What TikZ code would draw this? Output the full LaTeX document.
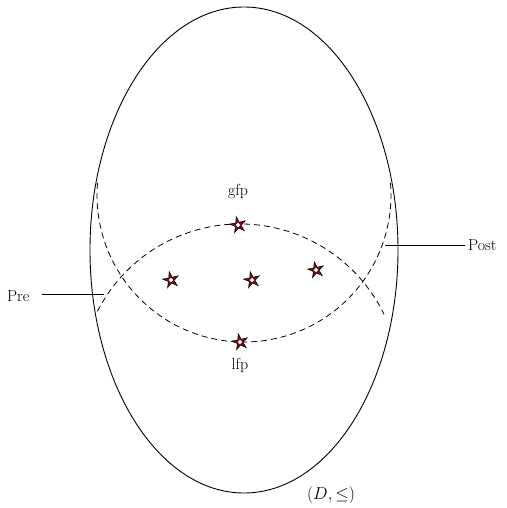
\documentclass[tikz,border=0pt]{standalone}
\usetikzlibrary{shapes.geometric}
\definecolor{stared}{RGB}{130,10,20}
\begin{document}
\begin{tikzpicture}[x=1pt,y=-1pt,
  lbl/.style={font=\fontsize{16}{19}\selectfont, inner sep=0pt},
  fp/.style={star, star points=5, star point ratio=2.8, minimum size=17pt, inner sep=0pt,
     draw=black, fill=stared, line width=0.5pt, rotate=12},
  hole/.style={circle, fill=white, draw=black, line width=0.3pt, minimum size=4.5pt, inner sep=0pt},
  dsh/.style={dashed, dash pattern=on 6pt off 4pt, line width=0.8pt},
  edge/.style={line width=0.8pt}]
\useasboundingbox (0,0) rectangle (506,508);
% outer ellipse
\draw[line width=0.9pt] (244,250) ellipse [x radius=154, y radius=243];
% dashed arcs (y axis flipped: angles measured with flipped y)
\draw[dsh] (244,195) ++(-175.3:147) arc[start angle=-175.3, end angle=-365.9, radius=147];
\draw[dsh] (240,384) ++(-153:160) arc[start angle=-153, end angle=-25.8, radius=160];
% stars
\foreach \n/\x/\y in {g/238/225, l/240/342, a/171/280, b/252/280, c/316/270}{
  \node[fp] (s\n) at (\x,\y) {};
  \node[hole] (h\n) at (\x,\y) {};
}
% labels
\node[lbl] (gfp) at (238,192) {gfp};
\node[lbl] (lfp) at (240,365) {lfp};
\node[lbl, anchor=west] (pre) at (7,296) {Pre};
\node[lbl, anchor=west] (post) at (468,245) {Post};
\node[lbl] (dom) at (331,495) {$(D,\leq)$};
\coordinate (preend) at (104,294);
\coordinate (postend) at (385,245);
\draw[edge] (pre.east |- preend) ++(12,0) -- (preend);
\draw[edge] (postend) -- ([xshift=-3pt]post.west |- postend);
\end{tikzpicture}
\end{document}
